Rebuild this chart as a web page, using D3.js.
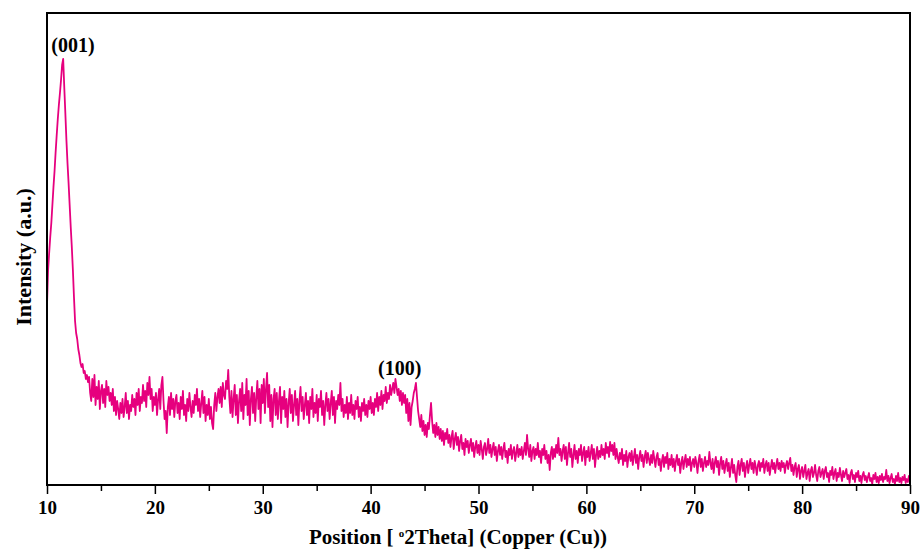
<!DOCTYPE html>
<html>
<head>
<meta charset="utf-8">
<script src="https://cdn.jsdelivr.net/npm/d3@7"></script>
<style>
  body { margin: 0; background: #fff; }
  text { font-family: "Liberation Serif", "Times New Roman", serif; font-weight: bold; }
</style>
</head>
<body>
<script>
(function() {
    "use strict";

    //diffraction scan: first angle, step, and intensity (a.u.) at every step
    var THETA_START = 10;
    var THETA_STEP = 0.1;
    var intensity = [
        180,215,232,248,262,280,298,314,333,350,366,380,392,405,420,426,398,372,345,322,
        302,280,258,238,215,188,164,152,146,136,130,122,118,121,112,114,106,110,103,108,
        92,84,106,88,110,80,98,86,104,76,94,100,82,96,78,104,90,98,84,92,
        80,96,74,88,70,84,76,66,82,72,86,68,78,92,72,84,66,80,74,90,
        78,86,70,92,80,96,74,88,82,100,84,94,78,102,90,108,86,96,74,88,
        80,92,70,86,96,76,100,108,84,66,74,52,78,88,70,92,76,86,68,84,
        90,72,82,66,88,76,94,70,80,64,86,74,92,78,68,84,72,90,80,96,
        74,86,68,82,94,72,88,64,80,70,86,66,78,62,56,80,92,74,88,96,
        82,98,78,102,90,86,104,96,115,88,72,94,68,86,100,70,90,62,84,96,
        74,102,66,90,80,106,70,94,60,86,98,72,92,64,88,104,76,96,62,100,
        82,106,72,96,112,78,100,64,90,58,86,96,70,92,66,84,98,62,88,76,
        94,68,86,58,82,96,72,90,64,80,94,70,86,60,84,98,74,88,66,80,
        92,70,84,62,88,76,96,68,82,72,90,64,86,78,94,70,84,60,80,92,
        74,86,66,82,94,70,88,62,84,76,90,80,102,74,86,68,80,72,88,66,
        82,72,90,70,80,66,84,76,88,68,78,64,82,74,86,70,80,68,84,76,
        88,72,82,70,86,78,92,74,88,80,94,76,90,84,98,82,92,86,100,90,
        96,102,92,106,98,90,96,84,94,80,92,82,90,72,86,64,82,60,78,84,
        92,96,102,88,74,66,58,70,54,64,50,60,48,62,56,70,82,64,52,60,
        48,62,50,58,46,56,44,54,40,52,46,56,42,50,38,48,54,36,46,52,
        40,48,34,44,50,36,42,30,46,38,44,32,40,46,34,42,28,38,44,32,
        40,30,44,36,26,38,42,30,36,46,32,40,28,36,42,30,38,24,34,40,
        30,38,26,36,42,28,34,22,36,30,40,26,34,38,24,32,40,28,36,30,
        38,26,34,42,30,50,36,28,40,24,34,38,26,36,30,42,28,34,22,36,
        30,40,26,34,22,30,15,32,38,26,36,28,40,32,47,30,36,24,34,40,
        26,38,20,32,42,28,36,18,30,40,26,34,22,36,30,40,24,32,38,20,
        34,28,38,24,32,40,26,36,18,30,38,26,34,28,40,30,36,26,42,32,
        38,28,43,34,40,30,42,26,36,28,22,32,26,36,20,30,24,34,18,28,
        32,24,34,20,28,36,22,30,16,28,34,24,30,18,28,34,22,32,26,20,
        30,22,34,26,18,28,32,20,26,14,24,30,18,28,22,32,16,26,20,30,
        18,26,14,24,30,20,26,12,22,28,16,24,30,18,26,20,28,14,22,26,
        18,28,22,12,24,30,18,26,14,22,28,18,24,20,33,22,16,26,12,22,
        28,18,24,10,22,28,16,24,12,20,26,14,22,8,18,26,12,20,10,3,
        18,24,10,20,26,14,22,8,18,24,12,20,26,16,22,12,24,18,10,20,
        24,14,22,18,26,12,20,24,14,22,10,18,25,16,22,12,20,26,16,22,
        14,24,18,22,12,20,24,16,22,27,14,20,10,18,22,8,16,20,6,14,
        18,8,14,20,6,12,16,4,14,18,8,12,20,10,4,14,18,8,12,16,
        6,14,18,8,12,3,14,10,18,6,12,16,4,12,8,17,10,4,14,8,
        12,16,6,10,2,12,15,6,10,3,12,8,14,4,9,2,10,13,5,9,
        3,8,12,4,7,1,10,6,12,3,8,2,9,5,11,3,8,6,15,4,
        9,2,7,11,3,6,1,9,4,12,3,7,2,8,5,10,2,6,3,9,4
    ];

    //axis ticks
    var majorTicks = [10, 20, 30, 40, 50, 60, 70, 80, 90];
    var minorTicks = [15, 25, 35, 45, 55, 65, 75, 85];

    //reflection labels and where they sit (angle, intensity)
    var peakLabels = ["(001)", "(100)"];
    var peakTheta = [12.4, 42.7];
    var peakHeight = [433, 110];

    var WIDTH = 923;
    var HEIGHT = 550;
    var margin = { top: 13, right: 13, bottom: 65, left: 47 };
    var plotW = WIDTH - margin.left - margin.right;
    var plotH = HEIGHT - margin.top - margin.bottom;

    var points = intensity.map(function(d, i) {
        return { theta: THETA_START + i * THETA_STEP, value: d };
    });

    var x = d3.scaleLinear().domain([10, 90]).range([0, plotW]);
    var y = d3.scaleLinear().domain([0, 472]).range([plotH, 0]);

    var svg = d3.select("body").append("svg")
        .attr("width", WIDTH)
        .attr("height", HEIGHT);

    var g = svg.append("g")
        .attr("transform", "translate(" + margin.left + "," + margin.top + ")");

    //the scan itself
    var line = d3.line()
        .x(function(d) { return x(d.theta); })
        .y(function(d) { return y(d.value); });

    g.append("path")
        .datum(points)
        .attr("fill", "none")
        .attr("stroke", "#e6007e")
        .attr("stroke-width", 1.8)
        .attr("stroke-linejoin", "round")
        .attr("d", line);

    //frame round the plot
    g.append("rect")
        .attr("width", plotW)
        .attr("height", plotH)
        .attr("fill", "none")
        .attr("stroke", "#000")
        .attr("stroke-width", 2);

    //bottom axis: major ticks with labels, minor ticks without
    var xAxis = g.append("g")
        .attr("transform", "translate(0," + plotH + ")")
        .call(d3.axisBottom(x).tickValues(majorTicks).tickSize(9).tickPadding(7).tickSizeOuter(0));
    xAxis.select(".domain").remove();
    xAxis.selectAll("line").attr("stroke-width", 1.5);
    xAxis.selectAll("text")
        .attr("fill", "#000")
        .style("font-size", "19px")
        .style("font-family", "'Liberation Serif', 'Times New Roman', serif")
        .style("font-weight", "bold");

    var xMinor = g.append("g")
        .attr("transform", "translate(0," + plotH + ")")
        .call(d3.axisBottom(x).tickValues(minorTicks).tickSize(6).tickFormat(""));
    xMinor.select(".domain").remove();
    xMinor.selectAll("line").attr("stroke-width", 1.5);

    //peak labels
    g.selectAll(".peak")
        .data(peakLabels)
        .enter()
        .append("text")
        .attr("class", "peak")
        .attr("x", function(d, i) { return x(peakTheta[i]); })
        .attr("y", function(d, i) { return y(peakHeight[i]); })
        .attr("text-anchor", "middle")
        .style("font-size", "20px")
        .text(function(d) { return d; });

    //axis titles
    var xTitle = svg.append("text")
        .attr("x", 458)
        .attr("y", 544)
        .attr("text-anchor", "middle")
        .style("font-size", "21px");
    xTitle.append("tspan").text("Position [ ");
    xTitle.append("tspan").attr("dy", -7).style("font-size", "11px").text("o");
    xTitle.append("tspan").attr("dy", 7).text("2Theta] (Copper (Cu))");

    svg.append("text")
        .attr("transform", "translate(31,257) rotate(-90)")
        .attr("text-anchor", "middle")
        .style("font-size", "22px")
        .text("Intensity (a.u.)");
}());
</script>
</body>
</html>
